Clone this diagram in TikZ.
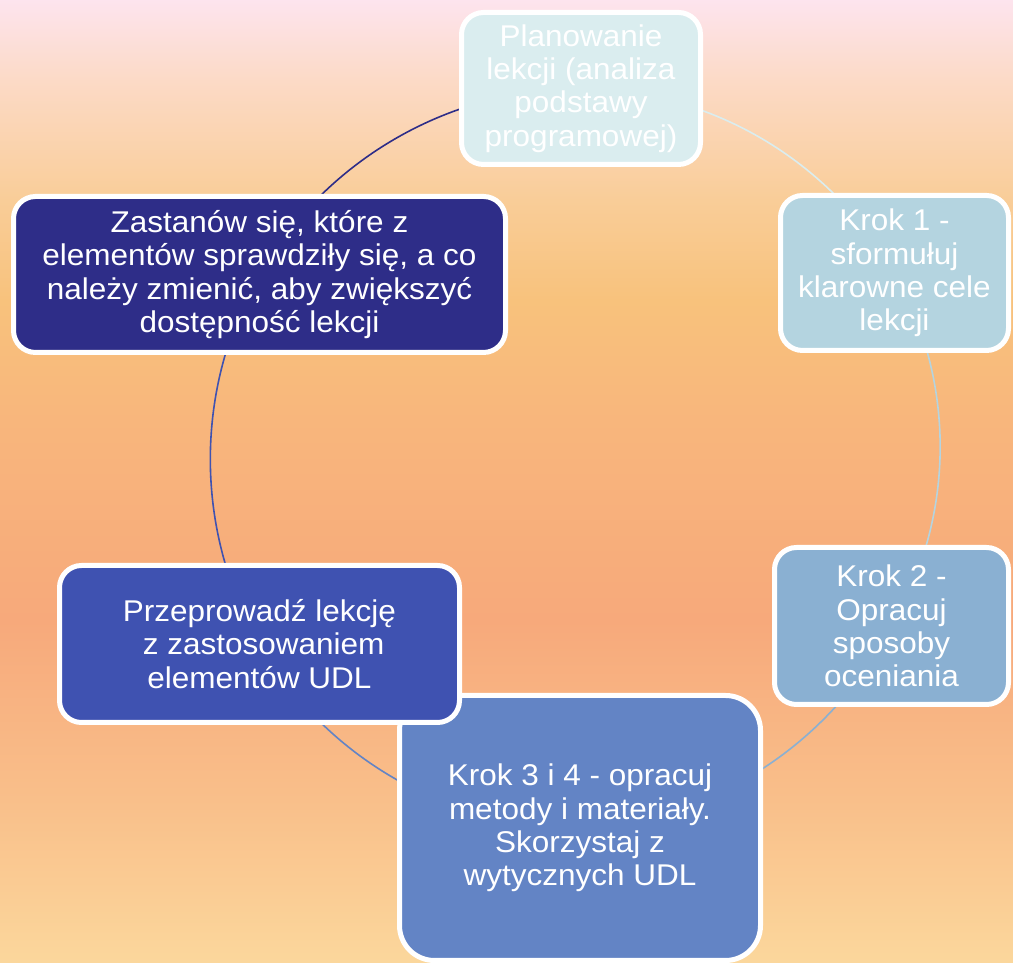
\documentclass[tikz,border=0pt]{standalone}
\usepackage{fontspec}
\setmainfont{Liberation Sans}[FakeStretch=1.05]
\definecolor{g0}{HTML}{FBD79C}
\definecolor{g1}{HTML}{F9BF8A}
\definecolor{g2}{HTML}{F7A97B}
\definecolor{g3}{HTML}{F8B67C}
\definecolor{g4}{HTML}{F8C27C}
\definecolor{g5}{HTML}{F9CD98}
\definecolor{g6}{HTML}{FCDAC6}
\definecolor{g7}{HTML}{FDE4EE}
\definecolor{cA}{HTML}{DAEDEF}
\definecolor{cB}{HTML}{B4D4E0}
\definecolor{cC}{HTML}{8AB0D2}
\definecolor{cD}{HTML}{6384C5}
\definecolor{cE}{HTML}{3F52B1}
\definecolor{cF}{HTML}{2E2D88}
\pgfdeclareverticalshading{bgshade}{100bp}{color(0bp)=(g0); color(25bp)=(g0); color(33.5bp)=(g1); color(42.8bp)=(g2); color(53.2bp)=(g3); color(59.4bp)=(g4); color(64.6bp)=(g5); color(70.8bp)=(g6); color(75bp)=(g7); color(100bp)=(g7)}
\pgfdeclarelayer{bglayer}
\pgfdeclarelayer{arclayer}
\pgfsetlayers{bglayer,arclayer,main}
\tikzset{
  box/.style={draw=white, line width=5pt, rounded corners=22pt, text=white, align=center, inner sep=0pt, font=\fontsize{30}{33.3}\selectfont},
  arcline/.style={line width=1.6pt, bend left=30, looseness=0.91}
}
\begin{document}
\begin{tikzpicture}[x=1pt,y=1pt]
\useasboundingbox (0,0) rectangle (1013,963);
\begin{pgfonlayer}{bglayer}
\fill[shading=bgshade] (0,0) rectangle (1013,963);
\end{pgfonlayer}
\node[box, fill=cA, minimum width=239pt, minimum height=152pt] (n1) at (581,874.5) {Planowanie\\lekcji (analiza\\podstawy\\programowej)};
\node[box, fill=cB, minimum width=228pt, minimum height=155pt] (n2) at (894.5,690) {Krok 1 -\\sformułuj\\klarowne cele\\lekcji};
\node[box, fill=cC, minimum width=234pt, minimum height=157pt] (n3) at (891.5,337) {Krok 2 -\\Opracuj\\sposoby\\oceniania};
\node[box, fill=cD, rounded corners=35pt, minimum width=361pt, minimum height=265pt] (n4) at (580,135) {Krok 3 i 4 - opracuj\\metody i materiały.\\Skorzystaj z\\wytycznych UDL};
\node[box, fill=cE, minimum width=400pt, minimum height=157pt] (n5) at (259.5,319) {Przeprowadź lekcję\\\hspace*{0.28em}z zastosowaniem\\elementów UDL};
\node[box, fill=cF, minimum width=492pt, minimum height=156pt] (n6) at (259.5,688.5) {Zastanów się, które z\\elementów sprawdziły się, a co\\należy zmienić, aby zwiększyć\\dostępność lekcji};
\begin{pgfonlayer}{arclayer}
\draw[arcline, draw=cA] (n1.center) to (n2.center);
\draw[arcline, draw=cB] (n2.center) to (n3.center);
\draw[arcline, draw=cC] (n3.center) to (n4.center);
\draw[arcline, draw=cD] (n4.center) to (n5.center);
\draw[arcline, draw=cE] (n5.center) to (n6.center);
\draw[arcline, draw=cF] (n6.center) to (n1.center);
\end{pgfonlayer}
\end{tikzpicture}
\end{document}
